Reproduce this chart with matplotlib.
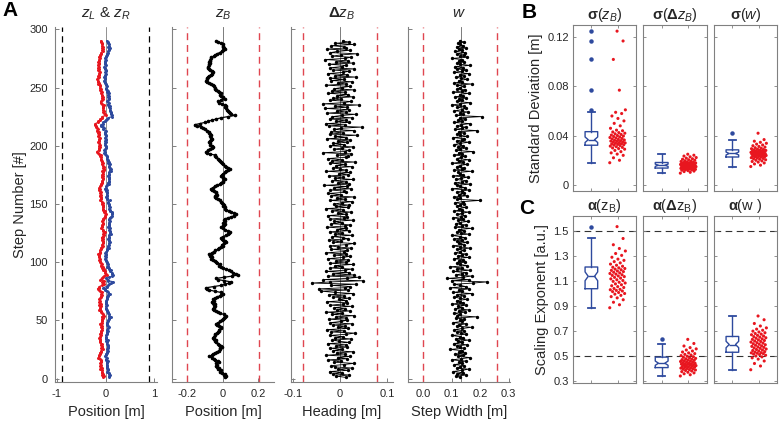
import numpy as np
import matplotlib
matplotlib.use('Agg')
import matplotlib.pyplot as plt

plt.rcParams['font.family'] = ['Liberation Sans', 'DejaVu Sans']
plt.rcParams['mathtext.fontset'] = 'custom'
plt.rcParams['mathtext.rm'] = 'Liberation Sans'
plt.rcParams['mathtext.it'] = 'Liberation Sans:italic'
plt.rcParams['mathtext.bf'] = 'Liberation Sans:bold'
plt.rcParams['axes.unicode_minus'] = False

# ---------------- data (mm) ----------------
zB_mm = [15, 20, 8, 12, -5, -17, -10, -25, -20, -32,
         -36, -30, -38, -22, -26, -40, -50, -62, -74, -60,
         -52, -45, -30, -18, -12, -17, -4, -8, -20, -28,
         -36, -42, -38, -50, -55, -48, -40, -44, -30, -26,
         -18, -22, -10, -8, -18, -30, -36, -25, -12, -5,
         2, 10, 15, 20, 8, -12, -26, -35, -48, -55,
         -50, -42, -50, -45, -52, -60, -50, -55, -40, -30,
         -17, -8, 2, -10, -45, -74, -85, -92, -50, -8,
         15, 35, 49, 10, -26, -36, 10, 55, 87, 75,
         60, 49, 35, 20, 5, -8, -20, -15, -30, -36,
         -45, -55, -64, -60, -70, -65, -74, -60, -50, -40,
         -26, -20, -8, 2, -4, 10, 20, 12, 5, -2,
         -8, 5, 18, 30, 35, 40, 28, 12, 0, -8,
         0, 6, 11, 5, 15, 8, 11, 30, 50, 65,
         77, 65, 50, 35, 20, 11, 15, 5, 10, 2,
         -5, -10, -17, -25, -38, -45, -40, -30, -35, -36,
         -50, -58, -64, -55, -45, -30, -17, -10, 0, 5,
         11, 5, 0, -8, -2, 5, 11, 20, 30, 40,
         30, 20, 11, 5, -2, -8, -15, -20, -26, -35,
         -40, -45, -70, -85, -92, -80, -70, -60, -55, -62,
         -68, -70, -74, -70, -65, -60, -64, -70, -65, -72,
         -75, -74, -85, -100, -110, -120, -145, -158, -128, -100,
         -80, -60, -35, -8, 30, 68, 50, 40, 35, 30,
         25, 20, 15, 18, 11, -5, -20, -26, -10, 11,
         5, 0, -8, -15, -10, -20, -26, -35, -40, -45,
         -50, -55, -65, -75, -85, -92, -88, -85, -83, -75,
         -65, -60, -55, -62, -70, -78, -83, -80, -78, -75,
         -72, -74, -70, -68, -66, -64, -50, -40, -30, -17,
         -5, 5, 11, 8, 0, 4, 2, -10, -25, -36]

dzB_mm = [12, -8, 20, -15, 5, -22, 18, -3, 25, -10,
          -18, 8, 30, -12, 2, -25, 15, -5, 22, -30,
          10, -6, 28, -14, 4, -20, 16, -8, 12, -26,
          20, -2, -16, 24, -10, 6, -22, 14, 32, -18,
          8, -28, 18, -4, 10, -14, 26, -20, 2, 15,
          -24, 12, -8, 30, -16, 4, -30, 22, -6, 10,
          -12, 25, -20, 6, 16, -28, 12, -2, 20, -14,
          8, -24, 28, -10, -40, 18, -45, 10, 22, -18,
          35, -60, -20, 50, -35, 15, 40, -25, 30, -15,
          20, -30, 10, 25, -20, 5, -10, 28, -22, 12,
          -8, 18, -26, 6, 22, -12, 14, -30, 8, 16,
          -18, 24, -4, -20, 12, 30, -14, 2, -24, 18,
          6, -16, 26, -10, 4, -22, 20, -6, 14, -28,
          10, 22, -18, 4, -12, 28, -20, 8, 16, -26,
          12, -4, 24, -16, 6, -30, 18, -8, 20, -12,
          4, 26, -22, 10, -6, 30, -18, 2, -26, 14,
          8, -20, 24, -12, 16, -34, 20, -4, 12, -16,
          28, -10, 6, -24, 18, -2, 22, -30, 14, 0,
          -14, 26, -8, 10, -20, 32, -16, 4, -26, 12,
          18, -6, 24, -36, 10, 20, -12, 4, 28, -22,
          8, -14, 16, -4, 22, -28, 12, -10, 36, -20,
          6, -18, 30, -12, 2, 46, -24, 10, -30, 20,
          -8, 14, -22, 26, -16, 4, 34, -28, 12, -6,
          20, -32, 16, -10, 40, -36, 8, 24, -20, 2,
          -14, 28, -6, 18, -26, 10, -16, 30, -12, 4,
          22, -30, 14, -4, 26, -18, 8, -22, 34, -10,
          16, -26, 6, 20, -14, 30, -20, 4, 12, -24,
          28, -8, 18, -32, 10, 24, -16, 2, 36, -20,
          -6, 22, -28, 14, 8, -18, 30, -10, 20, 6]

w_mm = [130, 115, 150, 120, 140, 105, 135, 160, 118, 128,
        145, 110, 138, 125, 150, 100, 132, 165, 122, 140,
        112, 148, 126, 135, 95, 142, 130, 118, 155, 108,
        136, 124, 160, 115, 140, 128, 100, 150, 132, 120,
        145, 110, 138, 170, 118, 125, 152, 105, 135, 128,
        142, 115, 188, 120, 130, 108, 148, 125, 160, 112,
        135, 122, 150, 100, 140, 130, 118, 155, 128, 110,
        145, 120, 172, 105, 138, 125, 160, 95, 150, 130,
        110, 175, 225, 100, 160, 85, 140, 170, 115, 135,
        150, 105, 165, 120, 138, 95, 155, 130, 118, 148,
        125, 140, 108, 160, 122, 135, 150, 112, 128, 145,
        118, 165, 130, 105, 142, 125, 155, 120, 138, 110,
        148, 128, 100, 160, 132, 118, 145, 125, 170, 112,
        136, 150, 115, 128, 158, 122, 140, 105, 132, 148,
        120, 135, 162, 110, 138, 125, 150, 118, 130, 145,
        112, 140, 200, 120, 130, 108, 155, 125, 142, 118,
        135, 160, 100, 148, 128, 120, 165, 112, 138, 150,
        115, 132, 158, 105, 140, 128, 122, 170, 110, 135,
        145, 118, 130, 155, 100, 140, 125, 160, 120, 132,
        148, 108, 138, 125, 175, 115, 130, 150, 122, 140,
        110, 128, 162, 118, 135, 145, 105, 155, 130, 120,
        142, 125, 190, 112, 138, 150, 118, 132, 165, 108,
        136, 122, 148, 130, 205, 115, 140, 128, 158, 110,
        135, 150, 120, 142, 100, 130, 165, 118, 138, 125,
        152, 112, 140, 128, 160, 105, 135, 148, 120, 130,
        145, 118, 170, 110, 138, 125, 155, 132, 115, 142,
        128, 160, 108, 135, 150, 120, 140, 112, 165, 130,
        118, 145, 125, 138, 100, 155, 130, 142, 120, 148,
        112, 135, 125, 150, 118, 140, 130, 122, 145, 128]

sd_zB = [0.018, 0.020, 0.022, 0.024, 0.025, 0.026, 0.027, 0.028, 0.029, 0.0295,
         0.030, 0.0305, 0.031, 0.0315, 0.032,
         0.0323, 0.0326, 0.0329, 0.0332, 0.0335, 0.0338, 0.0341, 0.0344, 0.0347, 0.035,
         0.0353, 0.0356, 0.0359, 0.0362, 0.0365,
         0.0369, 0.0373, 0.0377, 0.0381, 0.0385, 0.0389, 0.0393, 0.0397, 0.0401, 0.0405,
         0.041, 0.0415, 0.042, 0.0425, 0.043,
         0.044, 0.0445, 0.046, 0.048, 0.050, 0.052, 0.054, 0.056, 0.058, 0.059,
         0.061, 0.077, 0.102, 0.117, 0.125]
sd_dzB = [0.0095, 0.0102, 0.0108, 0.0112, 0.0116, 0.0119, 0.0122, 0.0124, 0.0126, 0.0128,
          0.0130, 0.0131, 0.0132, 0.0134, 0.0135,
          0.0137, 0.0139, 0.0141, 0.0143, 0.0145, 0.0147, 0.0148, 0.0150, 0.0151, 0.0152,
          0.0154, 0.0155, 0.0156, 0.0158, 0.0159,
          0.0160, 0.0162, 0.0163, 0.0165, 0.0166, 0.0168, 0.0169, 0.0171, 0.0172, 0.0174,
          0.0175, 0.0177, 0.0178, 0.0180, 0.0181,
          0.0184, 0.0187, 0.0190, 0.0193, 0.0196, 0.0200, 0.0204, 0.0208, 0.0212, 0.0217,
          0.0222, 0.0228, 0.0234, 0.0241, 0.0249]
sd_w = [0.0149, 0.0160, 0.0170, 0.0178, 0.0185, 0.0190, 0.0195, 0.0200, 0.0204, 0.0208,
        0.0212, 0.0215, 0.0218, 0.0221, 0.0225,
        0.0227, 0.0229, 0.0231, 0.0233, 0.0235, 0.0237, 0.0239, 0.0241, 0.0243, 0.0245,
        0.0247, 0.0249, 0.0251, 0.0252, 0.0254,
        0.0256, 0.0258, 0.0260, 0.0262, 0.0264, 0.0266, 0.0268, 0.0270, 0.0272, 0.0274,
        0.0276, 0.0278, 0.0280, 0.0282, 0.0284,
        0.0287, 0.0290, 0.0294, 0.0298, 0.0302, 0.0307, 0.0312, 0.0318, 0.0324, 0.0331,
        0.0338, 0.0346, 0.0355, 0.0368, 0.0420]
al_zB = [0.886, 0.91, 0.93, 0.95, 0.965, 0.975, 0.985, 0.995, 1.0, 1.008,
         1.015, 1.02, 1.025, 1.03, 1.033,
         1.04, 1.048, 1.055, 1.062, 1.07, 1.077, 1.084, 1.09, 1.097, 1.104,
         1.11, 1.117, 1.123, 1.129, 1.135,
         1.14, 1.145, 1.15, 1.155, 1.16, 1.165, 1.17, 1.175, 1.18, 1.185,
         1.19, 1.195, 1.2, 1.205, 1.21,
         1.218, 1.226, 1.235, 1.245, 1.255, 1.265, 1.275, 1.29, 1.305, 1.32,
         1.34, 1.36, 1.39, 1.44, 1.535]
al_dzB = [0.34, 0.35, 0.358, 0.365, 0.37, 0.375, 0.38, 0.384, 0.388, 0.391,
          0.394, 0.397, 0.40, 0.403, 0.405,
          0.408, 0.41, 0.413, 0.416, 0.418, 0.421, 0.423, 0.426, 0.428, 0.43,
          0.433, 0.435, 0.437, 0.439, 0.441,
          0.444, 0.447, 0.45, 0.453, 0.456, 0.459, 0.462, 0.465, 0.468, 0.471,
          0.474, 0.477, 0.481, 0.485, 0.49,
          0.494, 0.498, 0.503, 0.508, 0.513, 0.519, 0.525, 0.532, 0.54, 0.548,
          0.557, 0.567, 0.58, 0.60, 0.633]
al_w = [0.39, 0.42, 0.44, 0.46, 0.475, 0.485, 0.493, 0.50, 0.506, 0.511,
        0.515, 0.519, 0.522, 0.525, 0.527,
        0.531, 0.535, 0.54, 0.544, 0.548, 0.552, 0.556, 0.561, 0.565, 0.569,
        0.573, 0.577, 0.581, 0.586, 0.59,
        0.594, 0.598, 0.603, 0.607, 0.611, 0.616, 0.62, 0.624, 0.629, 0.633,
        0.637, 0.642, 0.646, 0.651, 0.655,
        0.66, 0.665, 0.67, 0.675, 0.68, 0.686, 0.692, 0.699, 0.706, 0.715,
        0.725, 0.74, 0.76, 0.79, 0.82]

# ---------------- derived ----------------
zB = np.array(zB_mm) / 1000.0
dzB = np.array(dzB_mm) / 1000.0
w = np.array(w_mm) / 1000.0
zL = zB - w / 2
zR = zB + w / 2
steps = np.arange(1, len(zB) + 1)

BLUE = '#2e4a9e'
RED = '#e8161f'
DRED = '#e04650'
GRAY = '#808080'
TXT = '#262626'

W, H = 780, 423
fig = plt.figure(figsize=(W / 100, H / 100), dpi=100)


def px_axes(x0, x1, y0, y1):
    return fig.add_axes([x0 / W, 1 - y1 / H, (x1 - x0) / W, (y1 - y0) / H])


def style_A(ax, ylabels):
    for s in ['top', 'right']:
        ax.spines[s].set_visible(False)
    for s in ['left', 'bottom']:
        ax.spines[s].set_color(GRAY)
        ax.spines[s].set_linewidth(0.8)
    ax.tick_params(direction='in', length=3, width=0.7, color=GRAY,
                   labelsize=8, labelcolor=TXT, pad=5)
    ax.set_ylim(-3, 302)
    ax.set_yticks(np.arange(0, 301, 50))
    if not ylabels:
        ax.set_yticklabels([])
    ax.patch.set_alpha(0)


dash = (0, (5, 3.5))
xs = [(55, 157), (172, 274), (291, 393), (408, 510)]
axA = [px_axes(x0, x1, 27, 382) for x0, x1 in xs]

# panel A1
ax = axA[0]
ax.axvline(0, color='#666666', lw=0.5, zorder=1)
for v in (-0.89, 0.89):
    ax.axvline(v, color='black', lw=0.9, ls=dash)
ax.plot(zL, steps, color=RED, lw=0.9, marker='.', ms=2.3, zorder=3)
ax.plot(zR, steps, color=BLUE, lw=0.9, marker='.', ms=2.3, zorder=3)
ax.set_xlim(-1.04, 1.06)
ax.set_xticks([-1, 0, 1])
ax.set_xticklabels(['-1', '0', '1'])
style_A(ax, True)
ax.set_ylabel('Step Number [#]', fontsize=10.5, color=TXT, labelpad=2)
ax.set_xlabel('Position [m]', fontsize=10.5, color=TXT)
ax.set_title(r'$z_L$ & $z_R$', fontsize=11, color=TXT, pad=7)

# panel A2
ax = axA[1]
ax.axvline(0, color='#666666', lw=0.6, zorder=1)
for v in (-0.2, 0.205):
    ax.axvline(v, color=DRED, lw=1.0, ls=dash)
ax.plot(zB, steps, color='black', lw=0.9, marker='.', ms=3.2, zorder=3)
ax.set_xlim(-0.285, 0.29)
ax.set_xticks([-0.2, 0, 0.2])
ax.set_xticklabels(['-0.2', '0', '0.2'])
style_A(ax, False)
ax.set_xlabel('Position [m]', fontsize=10.5, color=TXT)
ax.set_title(r'$z_B$', fontsize=11, color=TXT, pad=7)

# panel A3
ax = axA[2]
ax.axvline(0, color='#666666', lw=0.6, zorder=1)
for v in (-0.078, 0.079):
    ax.axvline(v, color=DRED, lw=1.0, ls=dash)
ax.plot(dzB, steps, color='black', lw=0.6, marker='.', ms=2.8, zorder=3)
ax.set_xlim(-0.104, 0.113)
ax.set_xticks([-0.1, 0, 0.1])
ax.set_xticklabels(['-0.1', '0', '0.1'])
style_A(ax, False)
ax.set_xlabel('Heading [m]', fontsize=10.5, color=TXT)
ax.set_title(r'$\mathbf{\Delta}z_B$', fontsize=11, color=TXT, pad=7)

# panel A4
ax = axA[3]
ax.axvline(np.mean(w), color='#666666', lw=0.6, zorder=1)
for v in (0.0, 0.26):
    ax.axvline(v, color=DRED, lw=1.0, ls=dash)
ax.plot(w, steps, color='black', lw=0.6, marker='.', ms=2.8, zorder=3)
ax.set_xlim(-0.053, 0.305)
ax.set_xticks([0.0, 0.1, 0.2, 0.3])
ax.set_xticklabels(['0.0', '0.1', '0.2', '0.3'])
style_A(ax, False)
ax.set_xlabel('Step Width [m]', fontsize=10.5, color=TXT)
ax.set_title(r'$w$', fontsize=11, color=TXT, pad=7)

# ---------------- B / C ----------------
bxs = [(573, 636), (643, 707), (714, 777)]
datB = [sd_zB, sd_dzB, sd_w]
datC = [al_zB, al_dzB, al_w]
titB = [r'$\mathbf{\sigma}(z_B)$', r'$\mathbf{\sigma}(\mathbf{\Delta}z_B)$', r'$\mathbf{\sigma}(w)$']
titC = [r'$\mathbf{\alpha}(\mathrm{z_B})$', r'$\mathbf{\alpha}(\mathbf{\Delta}\mathrm{z_B})$', r'$\mathbf{\alpha}(\mathrm{w}\ )$']


def style_box(ax, first):
    for s in ax.spines.values():
        s.set_color(GRAY)
        s.set_linewidth(0.8)
    ax.tick_params(direction='in', length=2.5, width=0.6, color=GRAY,
                   top=True, right=True, labelsize=8, labelcolor=TXT, pad=3)
    ax.set_xticks([1, 2])
    ax.set_xticklabels([])
    ax.set_xlim(0.3, 2.7)
    if not first:
        ax.set_yticklabels([])


def draw_box(ax, d):
    d = np.asarray(d)
    ax.boxplot(d, positions=[1], widths=0.48, notch=True, whis=1.5,
               boxprops=dict(color=BLUE, lw=1.0),
               whiskerprops=dict(color=BLUE, lw=1.0),
               capprops=dict(color=BLUE, lw=1.3),
               medianprops=dict(color=BLUE, lw=1.0),
               flierprops=dict(marker='o', ms=2.2, mfc=BLUE, mec=BLUE))
    n = len(d)
    jit = ((np.arange(n) * 0.618034) % 1.0 - 0.5) * 0.6
    ax.scatter(2 + jit, d, s=5, color=RED, edgecolors='none', zorder=3)


for i, (x0, x1) in enumerate(bxs):
    ax = px_axes(x0, x1, 25, 191)
    draw_box(ax, datB[i])
    style_box(ax, i == 0)
    ax.set_ylim(-0.005, 0.13)
    ax.set_yticks([0, 0.04, 0.08, 0.12])
    if i == 0:
        ax.set_yticklabels(['0', '0.04', '0.08', '0.12'])
        ax.set_ylabel('Standard Deviation [m]', fontsize=10.5, color=TXT, labelpad=3)
    ax.set_title(titB[i], fontsize=10.5, color=TXT, pad=4)

    ax = px_axes(x0, x1, 216, 383)
    ax.axhline(0.5, color='#333333', lw=0.8, ls=(0, (6, 4)), zorder=0)
    ax.axhline(1.5, color='#333333', lw=0.8, ls=(0, (6, 4)), zorder=0)
    draw_box(ax, datC[i])
    style_box(ax, i == 0)
    ax.set_ylim(0.284, 1.62)
    ax.set_yticks([0.3, 0.5, 0.7, 0.9, 1.1, 1.3, 1.5])
    if i == 0:
        ax.set_yticklabels(['0.3', '0.5', '0.7', '0.9', '1.1', '1.3', '1.5'])
        ax.set_ylabel('Scaling Exponent [a.u.]', fontsize=10.5, color=TXT, labelpad=3)
    ax.set_title(titC[i], fontsize=10.5, color=TXT, pad=4)

fig.text(10 / W, 1 - 11 / H, 'A', fontsize=15, fontweight='bold', ha='center', va='center')
fig.text(529 / W, 1 - 12 / H, 'B', fontsize=15, fontweight='bold', ha='center', va='center')
fig.text(527 / W, 1 - 209 / H, 'C', fontsize=15, fontweight='bold', ha='center', va='center')

fig.savefig('out.png', dpi=100)
